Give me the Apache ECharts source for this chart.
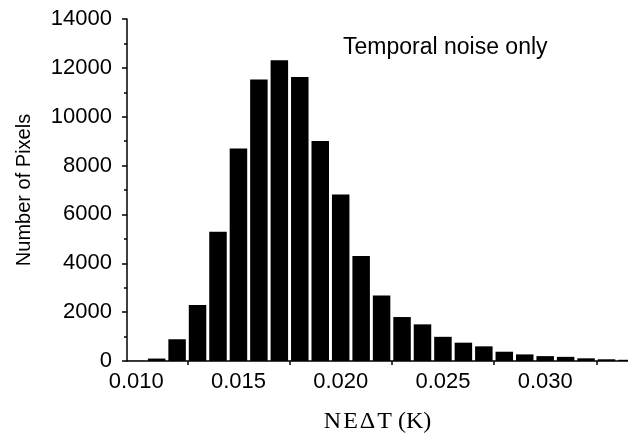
<!DOCTYPE html>
<html>
<head>
<meta charset="utf-8">
<script src="https://cdn.jsdelivr.net/npm/echarts@6/dist/echarts.min.js"></script>
<style>
  html, body { margin: 0; padding: 0; background: #fff; }
  #main { width: 628px; height: 439px; }
</style>
</head>
<body>
<div id="main"></div>
<script>
  // bin centres (K) and pixel counts
  var binCenters = [0.010, 0.011, 0.012, 0.013, 0.014, 0.015, 0.016, 0.017, 0.018, 0.019,
                    0.020, 0.021, 0.022, 0.023, 0.024, 0.025, 0.026, 0.027, 0.028, 0.029,
                    0.030, 0.031, 0.032, 0.033, 0.034];
  var pixelCounts = [10, 100, 890, 2290, 5290, 8700, 11520, 12310, 11630, 9010,
                     6820, 4300, 2680, 1800, 1500, 990, 750, 600, 380, 270,
                     200, 170, 110, 70, 50];
  var xLabelValues = [0.010, 0.015, 0.020, 0.025, 0.030];
  var xTickValues = [0.0125, 0.0175, 0.0225, 0.0275, 0.0325];

  var data = binCenters.map(function (x, i) { return [x, pixelCounts[i]]; });

  var chart = echarts.init(document.getElementById('main'));
  chart.setOption({
    animation: false,
    grid: { left: 127, right: 0, top: 19, bottom: 77 },
    xAxis: {
      type: 'value',
      min: 0.00955,
      max: 0.03405,
      name: 'N\u200aE\u200a\u0394\u200aT (K)',
      nameLocation: 'middle',
      nameGap: 49,
      nameTextStyle: { fontFamily: 'Liberation Serif', fontSize: 24, color: '#000' },
      axisLine: { lineStyle: { color: '#000', width: 1.5 } },
      axisTick: { show: true, customValues: xTickValues, length: 4, lineStyle: { color: '#000', width: 1.5 } },
      axisLabel: {
        customValues: xLabelValues,
        margin: 10,
        fontFamily: 'Liberation Sans', fontSize: 22, color: '#000',
        formatter: function (v) { return v.toFixed(3); }
      },
      splitLine: { show: false }
    },
    yAxis: {
      type: 'value',
      min: 0,
      max: 14000,
      interval: 2000,
      name: 'Number of Pixels',
      nameLocation: 'middle',
      nameGap: 93,
      nameTextStyle: { fontFamily: 'Liberation Sans', fontSize: 20, color: '#000' },
      axisLine: { show: true, lineStyle: { color: '#000', width: 1.5 } },
      axisTick: { show: true, length: 5, lineStyle: { color: '#000', width: 1.5 } },
      minorTick: { show: true, splitNumber: 2, length: 3, lineStyle: { color: '#000', width: 1.5 } },
      axisLabel: {
        margin: 15, fontFamily: 'Liberation Sans', fontSize: 22, color: '#000',
        formatter: function (v) { return String(v); }
      },
      splitLine: { show: false }
    },
    graphic: [{
      type: 'text',
      left: 343,
      top: 36,
      style: { text: 'Temporal noise only', fontFamily: 'Liberation Sans', fontSize: 23, fill: '#000' }
    }],
    series: [{
      type: 'bar',
      data: data,
      barWidth: 17.5,
      clip: true,
      itemStyle: { color: '#000' }
    }]
  });
</script>
</body>
</html>
